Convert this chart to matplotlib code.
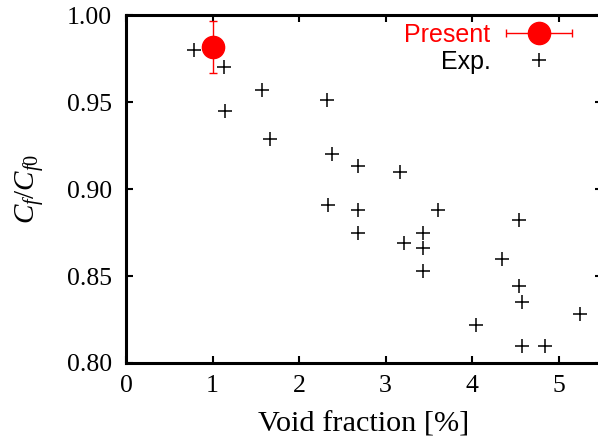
import numpy as np
import matplotlib
matplotlib.use('Agg')
import matplotlib.pyplot as plt
from matplotlib.legend_handler import HandlerErrorbar

# fonts
plt.rcParams['font.family'] = ['Liberation Serif', 'DejaVu Serif']
plt.rcParams['mathtext.fontset'] = 'custom'
plt.rcParams['mathtext.rm'] = 'Liberation Serif'
plt.rcParams['mathtext.it'] = 'Liberation Serif:italic'

# present result
present_x = [1.0]
present_y = [0.9816]
present_err = [0.015]

# experimental data
exp_x = [0.79, 1.13, 1.14, 1.57, 1.66, 2.32, 2.38, 2.33, 2.68, 2.68, 2.68,
         3.17, 3.21, 3.43, 3.43, 3.43, 3.61, 4.04, 4.35, 4.54, 4.54, 4.57,
         4.57, 4.84, 5.24]
exp_y = [0.980, 0.970, 0.945, 0.957, 0.929, 0.951, 0.920, 0.891, 0.913, 0.888,
         0.875, 0.910, 0.869, 0.875, 0.866, 0.853, 0.888, 0.822, 0.860, 0.882,
         0.844, 0.835, 0.810, 0.810, 0.828]

xticks = [0, 1, 2, 3, 4, 5]
yticks = [0.80, 0.85, 0.90, 0.95, 1.00]

fig = plt.figure(figsize=(5.98, 4.43), dpi=100)
ax = fig.add_axes([0.2107, 0.1806, 0.796, 0.7855])

# dummy handle (outside the view) so the legend shows a horizontal error bar
h_present = ax.errorbar([-5.0], [0.5], xerr=[0.1], fmt='o', color='red', ms=16,
                        elinewidth=1.0, capsize=3, capthick=1.0)
ax.errorbar(present_x, present_y, yerr=present_err, fmt='o', color='red',
            ms=16, elinewidth=1.0, capsize=3, capthick=1.0, zorder=3)
h_exp, = ax.plot(exp_x, exp_y, '+', color='black', ms=10, mew=1.1, ls='none')

ax.set_xlim(0, 5.5)
ax.set_ylim(0.80, 1.00)
ax.set_xticks(xticks)
ax.set_yticks(yticks)
ax.set_xticklabels([str(t) for t in xticks])
ax.set_yticklabels(['%.2f' % t for t in yticks])
ax.tick_params(direction='in', top=True, right=True, length=5, width=1.5,
               labelsize=18.5)
ax.tick_params(axis='y', pad=10)
ax.tick_params(axis='x', pad=9)
for s in ax.spines.values():
    s.set_linewidth(2.2)

ax.set_xlabel('Void fraction [%]', fontsize=21.8, labelpad=10)
ax.set_ylabel(r'$C_f/C_{f0}$', fontsize=21, labelpad=15)

leg = ax.legend([h_present, h_exp], ['Present', 'Exp.'],
                loc='upper right', bbox_to_anchor=(0.939, 0.978),
                frameon=False, markerfirst=False,
                prop={'family': 'Liberation Sans', 'size': 18},
                handler_map={h_present: HandlerErrorbar(xerr_size=1.33)},
                handlelength=2.7, handletextpad=0.6, borderpad=0,
                borderaxespad=0, labelspacing=0.12, numpoints=1)
leg.get_texts()[0].set_color('red')

fig.savefig('out.png', dpi=100)
